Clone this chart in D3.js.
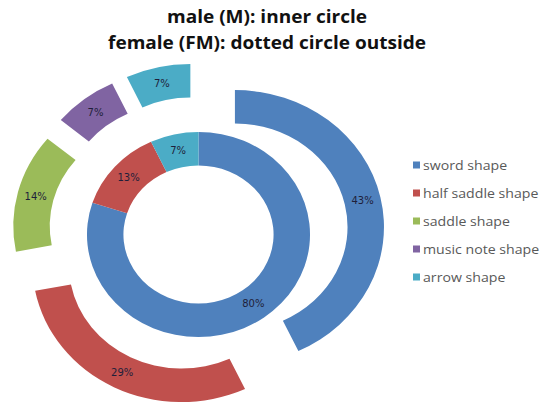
<!DOCTYPE html>
<html><head><meta charset="utf-8">
<script src="https://cdn.jsdelivr.net/npm/d3@7"></script>
<style>body{margin:0;background:#fff}</style>
</head><body>
<svg id="chart" width="547" height="403"></svg>
<script>
const categories = ["sword shape","half saddle shape","saddle shape","music note shape","arrow shape"];
const maleValues = [80,13,0,0,7];
const femaleValues = [43,29,14,7,7];
const colors = ["#4F81BD","#C0504D","#9BBB59","#8064A2","#4BACC6"];
const titleLines = ["male (M): inner circle","female (FM): dotted circle outside"];

const svg = d3.select("#chart");
const W = 547, H = 403;
const cx = 198.5, cy = 234.5, sx = 1.088;
const r0 = 69, r1 = 102.5, r2 = 103.5, r3 = 137, explode = 34.3;

svg.append("rect").attr("width",W).attr("height",H).attr("fill","#fff");

const title = svg.append("text").attr("text-anchor","middle")
  .attr("transform",`translate(267,0) scale(${sx},1)`)
  .attr("font-family","Open Sans, sans-serif").attr("font-weight","bold")
  .attr("font-size",17.5).attr("fill","#111");
titleLines.forEach((t,i)=>title.append("tspan").attr("x",0).attr("y",23+i*26).text(t));

const pie = d3.pie().sort(null).value(d=>d.v);
const mk = vals => pie(vals.map((v,i)=>({v,i})));
const maleArcs = mk(maleValues), femaleArcs = mk(femaleValues);

const arcIn = d3.arc().innerRadius(r0).outerRadius(r1);
const arcOut = d3.arc().innerRadius(r2).outerRadius(r3);

const g = svg.append("g").attr("transform",`translate(${cx},${cy}) scale(${sx},1)`);
g.selectAll("path.in").data(maleArcs.filter(d=>d.data.v>0)).join("path")
  .attr("class","in").attr("d",arcIn).attr("fill",d=>colors[d.data.i]);

const off = d => { const m=(d.startAngle+d.endAngle)/2; return [explode*Math.sin(m), -explode*Math.cos(m)]; };
g.selectAll("path.out").data(femaleArcs).join("path")
  .attr("class","out").attr("d",arcOut).attr("fill",d=>colors[d.data.i])
  .attr("transform",d=>{const o=off(d);return `translate(${o[0]},${o[1]})`;});

const lg = svg.append("g").attr("transform",`translate(${cx},${cy})`)
  .attr("font-family","DejaVu Sans, sans-serif").attr("font-size",10).attr("fill","#1f1f3a")
  .attr("text-anchor","middle");
maleArcs.filter(d=>d.data.v>0).forEach(d=>{
  const c = arcIn.centroid(d);
  lg.append("text").attr("x",c[0]*sx).attr("y",c[1]).attr("dy","0.35em").text(d.data.v+"%");
});
femaleArcs.forEach(d=>{
  const c = arcOut.centroid(d), o = off(d);
  lg.append("text").attr("x",(c[0]+o[0])*sx).attr("y",c[1]+o[1]).attr("dy","0.35em").text(d.data.v+"%");
});

const leg = svg.append("g").attr("font-family","Open Sans, sans-serif").attr("font-size",13).attr("fill","#595959");
categories.forEach((c,i)=>{
  const y = 165 + i*28;
  leg.append("rect").attr("x",413).attr("y",y-3.5).attr("width",7).attr("height",7).attr("fill",colors[i]);
  leg.append("text").attr("transform",`translate(423,${y}) scale(${sx},1)`).attr("dy","0.35em").text(c);
});
</script>
</body></html>
